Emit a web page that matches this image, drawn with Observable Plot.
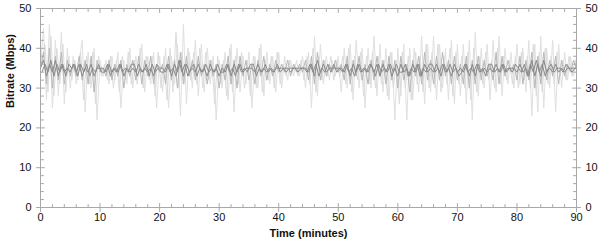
<!DOCTYPE html>
<html>
<head>
<meta charset="utf-8">
<script src="https://cdn.jsdelivr.net/npm/d3@7"></script>
<script src="https://cdn.jsdelivr.net/npm/@observablehq/plot@0.6"></script>
<style>
  html, body { margin: 0; padding: 0; background: #fff; }
  #chart { width: 600px; height: 245px; }
</style>
</head>
<body>
<div id="chart"></div>
<script>
// Time step of each sample (minutes); the "B" series are sampled half a step later
const step = 0.5;

// Light gray series (widest swings), Mbps
const lightSeries = [
  35,45,27,46,25,42,28,44,26,40,30,
  38,31,37,42,24,39,30,40,22,37,
  33,37,31,38,32,39,25,37,31,40,
  30,38,33,41,29,38,31,39,25,38,
  29,40,25,38,31,41,23,46,26,39,
  30,42,28,41,29,40,31,38,22,37,
  30,39,27,41,24,40,29,38,31,39,
  25,38,30,41,28,39,31,38,29,39,
  30,38,32,37,33,37,33,38,30,39,
  25,43,28,41,31,38,32,37,33,38,
  29,40,30,41,27,42,30,40,25,40,
  30,43,28,41,29,40,27,39,22,40,
  28,41,22,40,27,39,29,43,26,41,
  29,43,27,41,30,40,27,42,26,41,
  28,41,26,42,22,44,28,40,30,41,
  27,42,29,43,28,40,31,39,30,41,
  31,40,29,42,23,41,24,43,25,40,
  30,42,24,41,30,39,32,38,33,38
];
const lightSeriesB = [
  36,41,29,43,28,40,31,41,29,38,32,
  37,32,39,27,38,31,39,26,38,33,
  36,32,38,30,37,29,38,32,39,31,
  37,31,40,30,38,32,38,28,39,30,
  38,27,40,29,44,30,39,31,40,32,
  39,31,40,30,39,32,37,26,38,31,
  37,28,40,29,38,31,39,30,37,28,
  38,30,40,29,37,32,38,30,39,31,
  36,33,37,34,36,33,37,32,38,31,
  40,29,38,32,37,33,38,32,37,33,
  38,31,40,29,38,32,39,28,38,31,
  39,30,38,31,37,28,39,30,37,26,
  39,30,38,27,40,31,38,29,41,30,
  39,30,41,29,38,31,40,28,39,31,
  38,30,39,27,40,29,38,31,39,32,
  37,30,40,31,38,32,37,31,38,30,
  39,32,38,30,41,28,39,29,40,31,
  38,31,39,33,37,32,38,33,37,34
];

// Medium gray series, Mbps
const mediumSeries = [
  35,39,31,40,30,38,32,39,31,37,33,
  36,33,38,32,37,31,38,29,37,34,
  35,33,37,32,36,33,37,30,36,33,
  37,32,38,31,37,33,38,31,36,34,
  36,31,38,32,37,30,39,31,38,33,
  37,32,38,33,36,31,37,33,36,30,
  36,32,38,31,37,30,38,33,37,32,
  36,31,37,33,38,32,36,33,37,34,
  36,34,37,33,36,34,36,34,37,32,
  38,31,39,32,37,33,36,34,37,34,
  36,32,38,31,37,33,38,32,36,31,
  37,32,38,33,37,31,38,32,37,30,
  38,32,36,29,37,33,38,31,39,32,
  37,31,38,32,39,33,37,31,38,32,
  36,31,38,30,37,31,38,32,37,33,
  36,32,39,31,38,33,37,34,36,32,
  38,31,37,32,39,30,38,31,39,32,
  37,33,38,31,37,33,36,34,37,35
];

// Dark gray series, Mbps
const darkSeries = [
  35,37,33,36,34,37,33,36,34,35,34,
  36,34,36,33,35,34,36,33,35,35,
  35,34,36,34,35,34,36,33,35,34,
  35,34,36,34,35,34,35,33,36,35,
  35,34,36,33,36,34,37,33,36,34,
  35,34,36,34,35,33,36,34,35,33,
  35,34,36,33,36,34,36,34,35,35,
  35,34,36,34,35,34,35,34,35,35,
  35,35,35,34,35,35,35,35,35,34,
  36,33,37,34,36,34,35,35,35,35,
  35,34,36,33,36,34,36,34,35,34,
  36,34,36,33,36,34,36,33,35,33,
  36,34,35,33,36,34,36,33,36,34,
  35,34,36,34,36,34,35,33,36,34,
  35,34,36,33,36,33,36,34,35,34,
  35,34,36,34,36,34,35,35,35,34,
  36,34,35,33,37,33,36,33,37,34,
  35,34,36,34,35,34,35,35,35,35
];
const darkSeriesB = [
  34,36,34,37,33,36,34,36,33,36,35,
  36,33,36,34,36,33,35,34,36,34,
  34,36,33,35,34,36,34,35,34,36,
  36,33,35,34,36,33,36,34,35,34,
  34,36,34,35,33,37,34,36,33,35,
  36,33,35,34,36,34,35,34,36,34,
  34,36,34,35,33,36,34,35,34,36,
  36,33,35,34,36,34,35,34,36,34,
  35,34,35,35,35,34,35,35,34,36,
  34,36,33,35,34,36,34,36,34,35,
  34,36,34,35,33,36,34,35,34,36,
  35,33,36,34,35,34,36,34,36,34,
  34,36,33,35,34,36,33,35,34,36,
  36,34,35,33,36,34,36,34,35,33,
  34,36,34,35,34,36,34,35,33,36,
  36,34,35,34,36,34,35,34,36,35,
  34,36,33,36,34,37,34,36,33,35,
  36,34,35,35,34,36,35,34,35,35
];

const xMajorTicks = [0,10,20,30,40,50,60,70,80,90];
const yMajorTicks = [0,10,20,30,40,50];
const xMinorTicks = d3.range(0, 91, 2).filter(v => v % 10 !== 0);
const yMinorTicks = d3.range(0, 51, 2).filter(v => v % 10 !== 0);

const toRows = (arr, off = 0) => arr.map((v, i) => ({t: Math.min(90, i * step + off), v}));

const tickShape = { draw(ctx, l) { ctx.moveTo(0, 0); ctx.lineTo(0, -l); } };
const axisColor = "#a8a8a8";

function ticks(data, opts) {
  return Plot.vector(data, {shape: tickShape, stroke: axisColor, strokeWidth: 1, ...opts});
}

const chart = Plot.plot({
  width: 600,
  height: 245,
  marginLeft: 40,
  marginRight: 24,
  marginTop: 8,
  marginBottom: 38,
  style: {fontFamily: "Liberation Sans, Arial, sans-serif", fontSize: "11px", color: "#111", background: "#fff"},
  x: {domain: [0, 90]},
  y: {domain: [0, 50]},
  marks: [
    Plot.line(toRows(lightSeries), {x: "t", y: "v", stroke: "#e0e0e0", strokeWidth: 1}),
    Plot.line(toRows(lightSeriesB, step / 2), {x: "t", y: "v", stroke: "#dcdcdc", strokeWidth: 1}),
    Plot.line(toRows(mediumSeries), {x: "t", y: "v", stroke: "#b8b8b8", strokeWidth: 1}),
    Plot.line(toRows(darkSeries), {x: "t", y: "v", stroke: "#8a8a8a", strokeWidth: 1}),
    Plot.line(toRows(darkSeriesB, step / 2), {x: "t", y: "v", stroke: "#8a8a8a", strokeWidth: 1}),
    Plot.frame({stroke: axisColor}),
    // bottom
    ticks(xMajorTicks, {x: d => d, y: 0, length: 8, rotate: 0, anchor: "middle"}),
    ticks(xMinorTicks, {x: d => d, y: 0, length: 3, rotate: 0, anchor: "start"}),
    // top
    ticks(xMajorTicks, {x: d => d, y: 50, length: 4, rotate: 180, anchor: "start"}),
    ticks(xMinorTicks, {x: d => d, y: 50, length: 3, rotate: 180, anchor: "start"}),
    // left
    ticks(yMajorTicks, {x: 0, y: d => d, length: 8, rotate: 90, anchor: "middle"}),
    ticks(yMinorTicks, {x: 0, y: d => d, length: 3, rotate: 90, anchor: "start"}),
    // right
    ticks(yMajorTicks, {x: 90, y: d => d, length: 8, rotate: 270, anchor: "middle"}),
    ticks(yMinorTicks, {x: 90, y: d => d, length: 3, rotate: 270, anchor: "start"}),
    Plot.axisX({ticks: xMajorTicks, tickSize: 0, tickPadding: 6, label: null}),
    Plot.axisY({anchor: "left", ticks: yMajorTicks, tickSize: 0, tickPadding: 9, label: null}),
    Plot.axisY({anchor: "right", ticks: yMajorTicks, tickSize: 0, tickPadding: 9, label: null}),
    Plot.text(["Time (minutes)"], {frameAnchor: "bottom", dy: 29, fontWeight: "bold", fontSize: 11}),
    Plot.text(["Bitrate (Mbps)"], {frameAnchor: "left", dx: -30, rotate: -90, fontWeight: "bold", fontSize: 11})
  ]
});
document.getElementById("chart").appendChild(chart);
</script>
</body>
</html>
